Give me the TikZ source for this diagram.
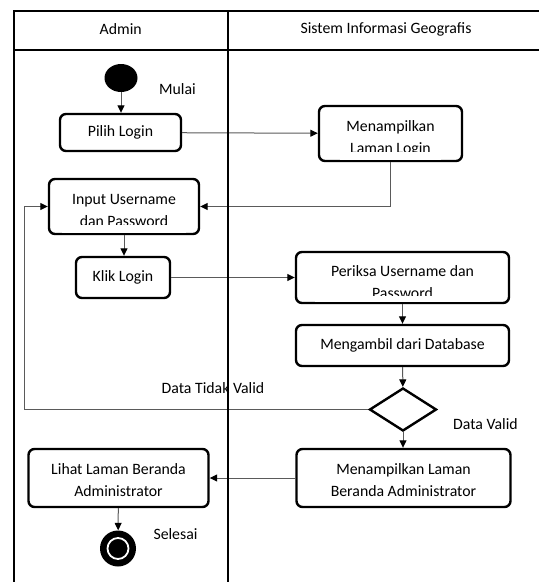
\documentclass[tikz,border=0pt]{standalone}
\usepackage{fontspec}
\setmainfont{Carlito}
\usetikzlibrary{shapes.geometric,arrows.meta}
\definecolor{linkgray}{HTML}{5A5A5A}
% two-line label whose block is pushed down by a strut of height #1
\newcommand\twoline[3]{\rule{0pt}{#1}#2\\#3}
\begin{document}
\begin{tikzpicture}[x=1pt,y=-1pt,
  every node/.style={font=\fontsize{15.8}{22}\selectfont},
  act/.style={draw,rounded corners=6pt,line width=2.4pt,align=center,inner sep=0pt},
  flow/.style={draw=linkgray,line width=1pt,-{Triangle[length=7.5pt,width=7pt,fill=black,color=black]}},
  lane/.style={line width=2pt,black},
  lbl/.style={inner sep=0pt}
]
\useasboundingbox (0,0) rectangle (539,582);

% start and end markers
\node[ellipse,fill=black,minimum width=33pt,minimum height=28pt,inner sep=0pt] (start) at (121,78) {};
\node[circle,fill=black,minimum size=36pt,inner sep=0pt] (end) at (118,548.5) {};
\draw[white,line width=1.8pt] (end.center) circle (10.5pt);

% activities
\node[act,minimum width=121pt,minimum height=37pt] (pilih) at (120.5,132.5) {Pilih Login};
\node[act,minimum width=143pt,minimum height=55pt] (tampil) at (390.5,133.5) {\twoline{21pt}{Menampilkan}{Laman Login}};
\node[act,minimum width=150pt,minimum height=55pt] (input) at (124,206.5) {\twoline{17.5pt}{Input Username}{dan Password}};
\node[act,minimum width=94pt,minimum height=41pt] (klik) at (123,277.5) {Klik Login};
\node[act,minimum width=213pt,minimum height=51pt] (periksa) at (402.5,277.5) {\twoline{19.5pt}{Periksa Username dan}{Password}};
\node[act,minimum width=213pt,minimum height=41pt] (ambil) at (402.5,345.5) {Mengambil dari Database};
\node[diamond,draw,line width=2.4pt,minimum width=67pt,minimum height=43pt,inner sep=0pt,aspect=1.55] (dec) at (403,409.5) {};
\node[act,minimum width=214pt,minimum height=58pt] (beranda) at (403.5,478) {\twoline{15.5pt}{Menampilkan Laman}{Beranda Administrator}};
\node[act,minimum width=180pt,minimum height=58pt] (lihat) at (118.5,478) {\twoline{15.5pt}{Lihat Laman Beranda}{Administrator}};

% the lower text line of three boxes runs past their text area
\fill[white] (340,151.5) rectangle (441,159.6);
\fill[white] (62,225) rectangle (186,232.6);
\fill[white] (315,296.2) rectangle (490,301.6);

% labels
\node[lbl] (mulai) at (177.5,89) {Mulai};
\node[lbl] (tidak) at (213,388) {Data Tidak Valid};
\node[lbl] (valid) at (485.5,424) {Data Valid};
\node[lbl] (selesai) at (175.5,534) {Selesai};

% connectors
\coordinate (loop) at (24,409.5);
\draw[flow] (start) -- (start |- pilih.north);
\draw[flow] (pilih) -- (tampil);
\draw[flow] (tampil.south) |- (input.east);
\draw[flow] (input) -- (input |- klik.north);
\draw[flow] (klik) -- (klik -| periksa.west);
\draw[flow] (periksa) -- (ambil);
\draw[flow] (ambil) -- (dec);
\draw[flow] (dec.west) -- (loop) |- (input.west);
\draw[flow] (dec) -- (dec |- beranda.north);
\draw[flow] (beranda) -- (lihat);
\draw[flow] (lihat) -- (end);

% swimlane frame
\draw[lane] (14,582) -- (14,11) -- (539,11);
\draw[lane] (14,50) -- (539,50);
\draw[lane] (227.5,11) -- (227.5,582);
\node (hadmin) at (120.7,29) {Admin};
\node (hsig) at (386,29) {Sistem Informasi Geografis};
\end{tikzpicture}
\end{document}
